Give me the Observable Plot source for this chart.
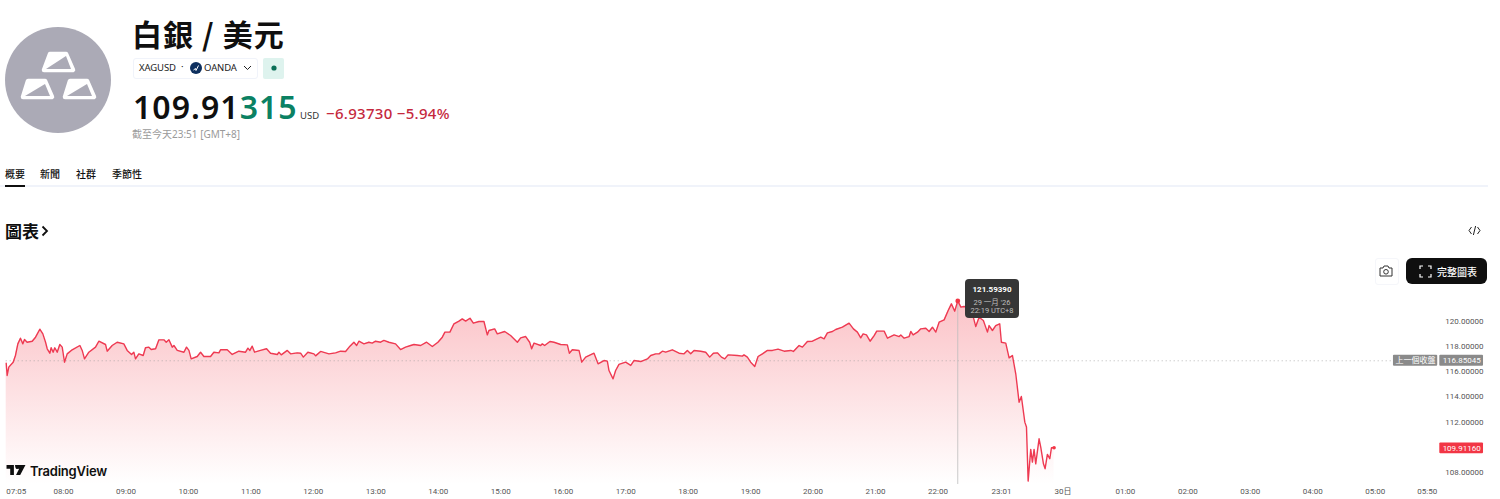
<!DOCTYPE html>
<html lang="zh-Hant">
<head>
<meta charset="utf-8">
<script src="https://cdn.jsdelivr.net/npm/d3@7"></script>
<script src="https://cdn.jsdelivr.net/npm/@observablehq/plot@0.6"></script>
<style>
html,body{margin:0;padding:0;background:#fff;width:1500px;height:499px;overflow:hidden}
body{position:relative;font-family:"Noto Sans","Noto Sans CJK TC",sans-serif;color:#0f0f0f}
.a{position:absolute;white-space:nowrap;line-height:1}
#chart{position:absolute;left:0;top:260px}
#chart svg{display:block;background:transparent}
</style>
</head>
<body>
<div id="chart"></div>

<svg class="a" style="left:0;top:22px" width="116" height="116" viewBox="0 22 116 116">
  <circle cx="58" cy="80" r="53" fill="#abaab6"/>
  <g stroke="#fff" stroke-width="4.5" stroke-linejoin="round">
    <path d="M50 54H66L73 70H44Z" fill="#fff"/>
    <path d="M46 69L66 56L71 69Z" fill="#abaab6" stroke="none"/>
    <path d="M28 81H45L52 97H23Z" fill="#fff"/>
    <path d="M25 96L45 84L50 96Z" fill="#abaab6" stroke="none"/>
    <path d="M70 81H87L94 97H65Z" fill="#fff"/>
    <path d="M67 96L87 84L92 96Z" fill="#abaab6" stroke="none"/>
  </g>
</svg>

<div class="a" style="left:132px;top:11px;font:700 30px 'Noto Sans CJK TC';letter-spacing:1.1px">白銀 / 美元</div>

<div class="a" style="left:133px;top:58px;width:123px;height:19px;border:1px solid #f0f3fa;border-radius:3px"></div>
<div class="a" style="left:139px;top:63px;font-size:9.5px;color:#222;letter-spacing:-.1px">XAGUSD</div>
<div class="a" style="left:181px;top:62px;font-size:9.5px;color:#222">·</div>
<svg class="a" style="left:190px;top:62px" width="12" height="12"><circle cx="6" cy="6" r="6" fill="#0d2f5e"/><path d="M3.5 8L5.5 6.5L6 8.5L8.5 3.5" stroke="#fff" fill="none" stroke-width="1"/></svg>
<div class="a" style="left:204px;top:63px;font-size:9.5px;color:#222;letter-spacing:-.1px">OANDA</div>
<svg class="a" style="left:243px;top:65px" width="9" height="6"><path d="M1 1L4.5 4.5L8 1" stroke="#222" fill="none" stroke-width="1"/></svg>
<div class="a" style="left:263px;top:58px;width:21px;height:21px;background:#def3ee;border-radius:2px"></div>
<svg class="a" style="left:270px;top:64px" width="8" height="8"><circle cx="4" cy="4" r="2.6" fill="#0a6f57"/></svg>

<div class="a" style="left:133px;top:91px;font-size:32px;font-weight:600;letter-spacing:1.05px;color:#0f0f0f">109.91<span style="color:#0b8163">315</span></div>
<div class="a" style="left:300px;top:111px;font-size:9.5px;color:#333">USD</div>
<div class="a" style="left:326px;top:106px;font-size:15px;font-weight:500;color:#c5283d;letter-spacing:.3px">−6.93730 −5.94%</div>
<div class="a" style="left:132px;top:129px;font-size:10px;color:#9a9a9a">截至今天23:51 [GMT+8]</div>

<div class="a" style="left:5px;top:166px;font:500 10px 'Noto Sans CJK TC'">概要</div>
<div class="a" style="left:40px;top:166px;font:500 10px 'Noto Sans CJK TC'">新聞</div>
<div class="a" style="left:76px;top:166px;font:500 10px 'Noto Sans CJK TC'">社群</div>
<div class="a" style="left:112px;top:166px;font:500 10px 'Noto Sans CJK TC'">季節性</div>
<div class="a" style="left:0;top:185px;width:1488px;height:2px;background:#f0f3fa"></div>
<div class="a" style="left:5px;top:185px;width:20px;height:2px;background:#0f0f0f"></div>

<div class="a" style="left:5px;top:218px;font:700 17px 'Noto Sans CJK TC'">圖表</div>
<svg class="a" style="left:41px;top:225px" width="8" height="12"><path d="M1.5 1.5L6 6L1.5 10.5" stroke="#0f0f0f" fill="none" stroke-width="1.8"/></svg>
<svg class="a" style="left:1468px;top:225px" width="13" height="11"><path d="M3.5 2L1 5.5L3.5 9M9.5 2L12 5.5L9.5 9M7.6 1L5.4 10" stroke="#222" fill="none" stroke-width="1"/></svg>

<div class="a" style="left:1375px;top:258px;width:22px;height:25px;border:1px solid #f5f6fa;border-radius:3px"></div>
<svg class="a" style="left:1379px;top:265px" width="14" height="12"><path d="M1 3H4L5 1H9L10 3H13V11H1Z" stroke="#333" fill="none" stroke-width="1"/><circle cx="7" cy="6.8" r="2.3" stroke="#333" fill="none"/></svg>
<div class="a" style="left:1406px;top:258px;width:81px;height:26px;background:#0f0f0f;border-radius:6px"></div>
<svg class="a" style="left:1419px;top:265px" width="13" height="13"><path d="M1 4V1H4M9 1H12V4M12 9V12H9M4 12H1V9" stroke="#fff" fill="none" stroke-width="1.2"/></svg>
<div class="a" style="left:1437px;top:264px;font:500 10px 'Noto Sans CJK TC';color:#fff">完整圖表</div>

<div class="a" style="left:965px;top:279px;width:54px;height:39px;background:#363636;border-radius:4px"></div>
<div class="a" style="left:965px;top:285px;width:54px;text-align:center;font:700 8px Roboto;color:#fff">121.59390</div>
<div class="a" style="left:965px;top:296px;width:54px;text-align:center;font:400 7.5px Roboto,'Noto Sans CJK TC';color:#bdbdbd">29 一月 '26</div>
<div class="a" style="left:965px;top:306px;width:54px;text-align:center;font:400 7.5px Roboto;color:#bdbdbd">22:19 UTC+8</div>

<svg class="a" style="left:6px;top:465px" width="20" height="10" viewBox="0 0 36 19"><path d="M0 0H14V19H7V7H0Z M16 0H36L26 19H18L24 7H18Z" fill="#0f0f0f"/><circle cx="20.5" cy="3.5" r="3.5" fill="#0f0f0f"/></svg>
<div class="a" style="left:30px;top:463px;font:600 13px Inter,Roboto;color:#0f0f0f;letter-spacing:-.2px">TradingView</div>

<script>
const times = [425,425.9,427.5,431.7,433.9,436.2,438.7,441,442.6,445.1,450,453.2,457.3,460.2,462.8,464.4,466.9,468.2,470.1,471.7,474,476.5,478.8,481,483.6,488.4,495.8,498,500.2,504.4,510.8,514,520.4,522,526.8,531.6,538,541.2,545.4,547.6,549.2,552.4,556.6,558.8,562,564.3,568.5,571.7,576.5,578.7,581.3,584.5,586.1,589.3,595.7,598.2,600.5,602.7,608.5,611.7,614.9,621.3,624.5,629.3,630.9,637.3,642.1,648.5,654.9,657.2,659.1,661.3,663.6,669.3,675.1,678.9,685.4,687,689.2,695,698.2,704.6,707.8,710.4,714.8,720.6,722.2,727,735,741.4,746.2,751,755.2,
759,761.6,763.8,768.6,773.4,776.6,779.8,784.6,787.8,792.6,799,803.8,808.6,813.5,816.7,823.1,828.8,834.3,839.7,843.9,846.4,851.2,855.1,859.9,863.1,866.3,870.5,873.7,879.1,883.9,887.1,888.7,894.2,896.7,903.8,909.5,916,919.2,924,927.8,929.7,932,938.4,940,942.2,947.3,951.2,957.6,964,965.9,968.8,975.2,977.8,981.6,989.6,993.5,999.2,1002.4,1004,1007.9,1010.4,1013.6,1020,1024.9,1028,1034.5,1040.9,1044.1,1048.9,1052.1,1055.3,1058.5,1064.9,1071.3,1076.1,1079.3,1082.5,1085.7,1092.1,
1096.9,1100.7,1104.3,1108.1,1112,1115.2,1118.4,1127.3,1132.1,1133.7,1136.9,1140.1,1144,1147.2,1151.4,1156.2,1161,1166.4,1172.2,1178.6,1181.1,1186.6,1189.8,1194.6,1199.4,1207.4,1210.6,1213.8,1218.6,1221.8,1228.2,1234.6,1238.8,1242.6,1245.8,1248.1,1251.3,1254.8,1258.7,1261.2,1268.3,1271.5,1277.9,1282.7,1284.3,1287.5,1292.3,1293.9,1296.1,1300.3,1303.5,1308.3,1311.5,1314.7,1317.9,1321.1,1325.9,1329.8,1332.9,1336.1,1339,1342,1345,1349.9,1353.1,1356.3,1359.5,1363.6,1367.5,1369.1,1372.3,1375.5,1379.3,1380.9,1385.1,1388.3,1391.5,1394.7,1397.9,1400.1,1403.4,1405,1406.6,1409.1,1410.7,1412.3,1413.9,1417.1,1418.7,1421.3,1422.9,1425.1,1427.4,1429,1431.5];
const prices = [116.66,115.69,116.35,116.74,117.27,118.19,118.64,118.19,118.54,118.32,118.40,118.72,119.35,118.98,118.32,117.80,117.45,117.88,117.53,117.88,117.53,118.14,117.93,116.74,117.40,117.72,118.06,117.67,117.00,117.53,117.93,118.40,118.14,117.61,118.06,118.32,118.19,117.67,117.35,117.53,117.00,117.40,117.27,117.88,117.93,117.74,117.80,118.51,118.51,118.32,118.51,117.93,118.06,117.67,117.53,117.93,117.67,117.00,117.19,117.53,117.19,117.19,117.53,117.48,117.72,117.72,117.35,117.61,117.53,117.85,117.67,118.01,117.53,117.67,117.80,117.45,117.35,117.53,117.32,117.67,117.40,117.48,117.45,117.14,117.53,117.40,117.24,117.59,117.40,117.48,117.61,117.59,118.01,
118.32,118.06,118.40,118.19,118.32,118.25,118.40,118.32,118.46,118.32,118.19,117.74,117.93,118.06,118.14,118.06,118.32,117.98,118.32,118.72,119.12,119.12,119.78,119.99,120.17,119.99,120.22,119.83,119.96,119.96,118.90,119.25,119.38,118.98,119.17,118.85,118.32,118.67,118.77,118.32,117.80,118.25,118.06,118.19,118.06,118.38,118.32,118.14,118.11,117.45,117.72,117.67,116.74,117.14,117.45,116.61,116.87,116.82,116.08,115.42,116.08,116.56,116.74,116.48,116.87,116.79,117.00,117.27,117.40,117.40,117.61,117.53,117.72,117.45,117.40,117.67,117.40,117.67,117.61,
117.53,117.14,117.45,117.48,117.14,117.00,117.32,117.27,117.22,117.32,117.14,116.74,116.40,117.19,117.40,117.67,117.67,117.77,117.61,117.67,117.59,118.06,117.93,118.38,118.40,118.72,118.59,119.06,119.17,119.33,119.51,119.83,119.38,119.12,118.67,118.98,118.90,118.40,118.85,119.20,119.20,118.64,118.90,118.77,118.90,118.64,118.77,119.17,118.90,119.12,119.38,119.43,119.17,119.51,119.12,119.91,120.09,120.83,121.36,120.78,121.594,121.10,121.15,121.04,120.57,119.56,120.30,120.04,119.12,119.64,119.25,119.64,119.78,118.32,118.25,117.08,117.27,115.82,113.57,114.02,111.99,111.60,107.32,109.83,108.82,109.83,108.69,110.67,110.01,108.69,108.30,109.43,109.09,109.96,109.96];

const xTickValues = [480,540,600,660,720,780,840,900,960,1020,1080,1140,1200,1260,1320,1381,1440,1500,1560,1620,1680,1740,1790];
const xTickLabels = ["08:00","09:00","10:00","11:00","12:00","13:00","14:00","15:00","16:00","17:00","18:00","19:00","20:00","21:00","22:00","23:01","30日","01:00","02:00","03:00","04:00","05:00","05:50"];
const startTick = 425, startLabel = "07:05";
const yTicks = [108,112,114,116,118,120];
const previousClose = 116.85045, lastPrice = 109.9116;
const peak = {t:1339, p:121.5939};
const priceDomain = [107.05,123.21];
const timeDomain = [425,1790];

const rows = times.map((t,i)=>({t,p:prices[i]}));
const tags = [
  {x1:1802,x2:1844,p:previousClose,fill:"#8a8a8a",label:previousClose.toFixed(5),size:8},
  {x1:1757.5,x2:1800,p:previousClose,fill:"#8a8a8a",label:"上一個收盤",size:8},
  {x1:1802,x2:1844,p:lastPrice,fill:"#f23645",label:lastPrice.toFixed(5),size:8}
];
const gradient = () => {
  const defs = d3.create("svg:defs");
  const g = defs.append("linearGradient").attr("id","fade").attr("x1",0).attr("x2",0).attr("y1",0).attr("y2",1);
  g.append("stop").attr("offset",0).attr("stop-color","#f23645").attr("stop-opacity",0.3);
  g.append("stop").attr("offset",1).attr("stop-color","#f23645").attr("stop-opacity",0);
  return defs.node();
};
const axisFont = {fontSize:8, fill:"#555", tickSize:0};
const plot = Plot.plot({
  width:1500, height:239,
  marginLeft:5.7, marginRight:73.2, marginTop:20, marginBottom:15,
  style:{fontFamily:"Roboto,'Noto Sans CJK TC',sans-serif", background:"transparent", overflow:"visible"},
  x:{domain:timeDomain},
  y:{domain:priceDomain},
  marks:[
    gradient,
    Plot.areaY(rows,{x:"t",y1:()=>priceDomain[0],y2:"p",fill:"url(#fade)"}),
    Plot.ruleY([previousClose],{x1:timeDomain[0],x2:1757.5,stroke:"#9a9a9a",strokeOpacity:0.7,strokeDasharray:"1 3"}),
    Plot.ruleX([peak.t],{y1:priceDomain[0],y2:peak.p,stroke:"#bdbdbd",strokeOpacity:0.8}),
    Plot.lineY(rows,{x:"t",y:"p",stroke:"#ee3a52",strokeWidth:1.4}),
    Plot.dot([peak],{x:"t",y:"p",r:2.4,fill:"#f23645"}),
    Plot.dot([rows[rows.length-1]],{x:"t",y:"p",r:1.8,fill:"#f23645"}),
    Plot.axisY({anchor:"right",ticks:yTicks,tickFormat:d=>d.toFixed(5),tickPadding:18,label:null,...axisFont,textAnchor:"start",color:"#555"}),
    Plot.axisX({ticks:xTickValues,tickFormat:d=>xTickLabels[xTickValues.indexOf(d)],label:null,tickPadding:4,...axisFont}),
    Plot.axisX({ticks:[startTick],tickFormat:()=>startLabel,label:null,tickPadding:4,textAnchor:"start",...axisFont}),
    Plot.rect(tags,{x1:"x1",x2:"x2",y1:d=>d.p-0.43,y2:d=>d.p+0.43,fill:"fill",rx:1}),
    Plot.text(tags,{x:d=>(d.x1+d.x2)/2,y:"p",text:"label",fill:"#fff",fontSize:"size"})
  ]
});
document.getElementById("chart").append(plot);
</script>
</body>
</html>
